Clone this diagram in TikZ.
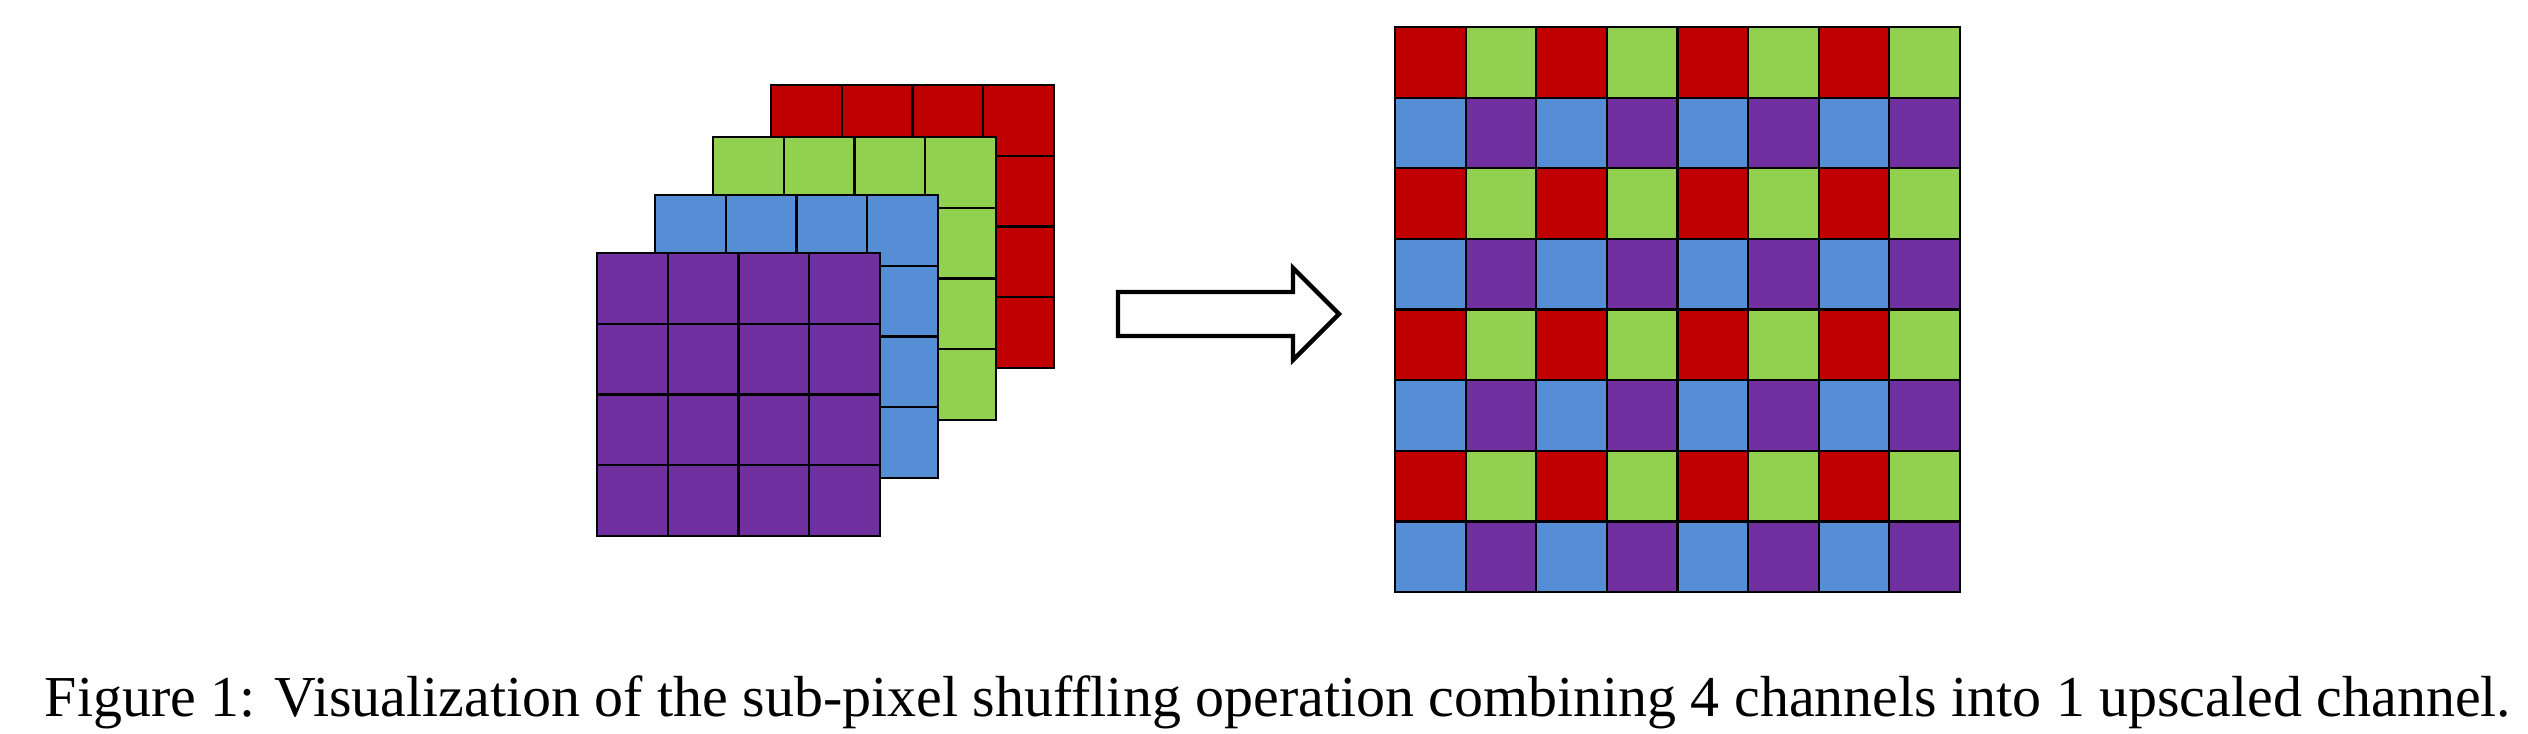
\documentclass[tikz,border=0pt]{standalone}
\usepackage{fontspec}
\setmainfont{Liberation Serif}
\usepackage{graphicx}
\definecolor{cred}{HTML}{C00000}
\definecolor{cgreen}{HTML}{92D050}
\definecolor{cblue}{HTML}{558ED5}
\definecolor{cpurple}{HTML}{7030A0}
\tikzset{
  cell/.style={draw=black, line width=0.55pt, line join=miter},
  bigarrow/.style={draw=black, fill=white, line width=1.1pt, line join=miter},
}
\newcommand\chlayer[3]{%
  \foreach \i in {0,...,3}{\foreach \j in {0,...,3}{%
    \filldraw[cell, fill=#3] ({#1+\i*70.75},{#2+\j*70.75}) rectangle ++(70.75,70.75);}}}
\begin{document}
\begin{tikzpicture}[x=0.25pt,y=-0.25pt]
\useasboundingbox (0,0) rectangle (2528,733);
% stacked input channels
\chlayer{771}{85}{cred}
\chlayer{713}{137}{cgreen}
\chlayer{655}{195}{cblue}
\chlayer{597}{253}{cpurple}
% arrow
\draw[bigarrow] (1118,292) -- (1293,292) -- (1293,268) -- (1339,314) -- (1293,360) -- (1293,336) -- (1118,336) -- cycle;
% output grid
\foreach \i in {0,...,7}{\foreach \j in {0,...,7}{%
  \pgfmathtruncatemacro\ci{mod(\i,2)}%
  \pgfmathtruncatemacro\cj{mod(\j,2)}%
  \ifnum\cj=0
    \ifnum\ci=0 \def\cc{cred}\else\def\cc{cgreen}\fi
  \else
    \ifnum\ci=0 \def\cc{cblue}\else\def\cc{cpurple}\fi
  \fi
  \filldraw[cell, fill=\cc] ({1395+\i*70.625},{27+\j*70.625}) rectangle ++(70.625,70.625);
}}
% caption
\node[anchor=base west, inner sep=0pt] (caption) at (44,716)
  {\resizebox{616.5pt}{!}{Figure 1: Visualization of the sub-pixel shuffling operation combining 4 channels into 1 upscaled channel.}};
\end{tikzpicture}
\end{document}
